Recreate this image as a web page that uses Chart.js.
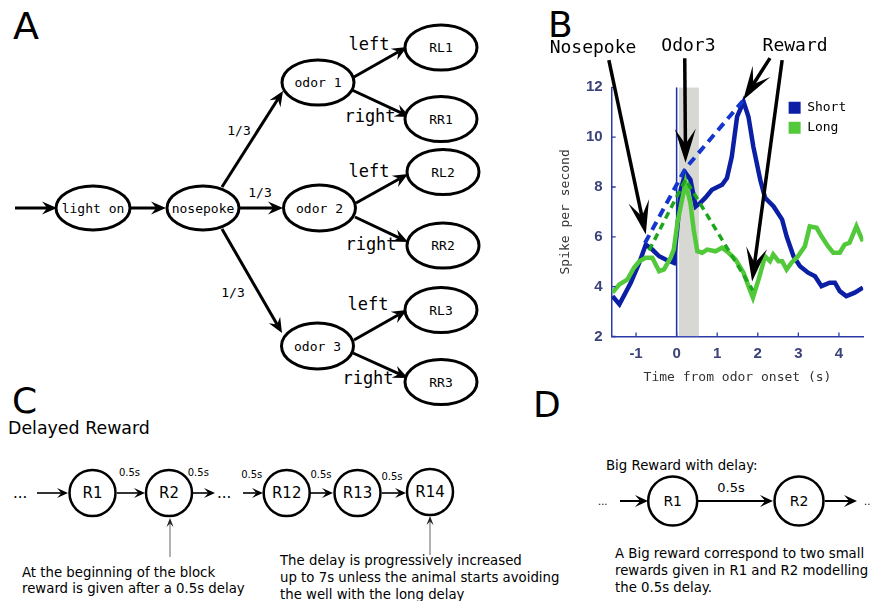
<!DOCTYPE html>
<html>
<head>
<meta charset="utf-8">
<script src="https://cdn.jsdelivr.net/npm/chart.js@4/dist/chart.umd.min.js"></script>
<style>
  html, body { margin: 0; padding: 0; background: #fff; }
  #page { position: relative; width: 871px; height: 601px; overflow: hidden; }
  #diagram { position: absolute; left: 0; top: 0; }
  #chartBox { position: absolute; left: 540px; top: 20px; width: 331px; height: 380px; }
</style>
</head>
<body>
<div id="page">
  <svg id="diagram" width="871" height="601" xmlns="http://www.w3.org/2000/svg"></svg>
  <div id="chartBox"><canvas id="spikeChart"></canvas></div>
</div>
<script>
// Panel B data: firing rate around odor onset
const seriesNames = ['Short', 'Long'];
const seriesColors = ['#0b1fa5', '#52c93a'];

const shortTime = [-1.58, -1.41, -1.13, -0.92, -0.76, -0.6, -0.43, -0.27, -0.07, 0.02, 0.1, 0.22, 0.34, 0.47, 0.59, 0.71, 0.87, 1.12, 1.24, 1.36, 1.49, 1.65, 1.77, 1.89, 2.06, 2.18, 2.39, 2.6, 2.71, 2.88, 3.04, 3.24, 3.41, 3.57, 3.77, 3.9, 4.02, 4.18, 4.39, 4.59];
const shortRate = [3.62, 3.29, 4.16, 4.96, 5.69, 5.49, 5.22, 5.09, 4.96, 6.4, 7.89, 8.56, 8.29, 7.22, 7.37, 7.57, 7.89, 8.09, 8.36, 9.22, 10.82, 11.42, 10.82, 9.62, 8.29, 7.56, 7.22, 6.69, 6.02, 5.22, 4.82, 4.56, 4.42, 4.02, 4.16, 4.16, 3.82, 3.62, 3.76, 3.96];

const longTime = [-1.58, -1.41, -1.21, -1.05, -0.92, -0.76, -0.6, -0.43, -0.31, -0.15, -0.07, 0.02, 0.1, 0.22, 0.34, 0.42, 0.51, 0.63, 0.75, 0.96, 1.12, 1.28, 1.45, 1.65, 1.77, 1.88, 2.02, 2.18, 2.3, 2.38, 2.51, 2.6, 2.71, 2.83, 2.99, 3.16, 3.28, 3.45, 3.57, 3.73, 3.86, 4.02, 4.14, 4.26, 4.43, 4.59];
const longRate = [3.76, 4.09, 4.29, 4.76, 5.02, 5.16, 5.16, 4.62, 4.69, 5.16, 5.49, 6.56, 7.22, 8.16, 7.36, 6.29, 5.42, 5.36, 5.49, 5.42, 5.56, 5.36, 5.09, 4.56, 4.02, 3.56, 4.29, 5.22, 5.02, 5.29, 5.02, 5.02, 4.69, 4.96, 5.22, 5.62, 6.42, 6.36, 6.02, 5.62, 5.36, 5.36, 5.69, 5.76, 6.42, 5.82];

// dashed guide lines: nosepoke -> odor peak -> reward
const shortGuideTime = [-0.78, 0.22, 1.63];
const shortGuideRate = [5.75, 8.75, 11.45];
const longGuideTime = [-0.68, 0.22, 1.88];
const longGuideRate = [5.45, 8.3, 3.85];

// odor delivery window (grey band)
const odorWindow = [0.05, 0.55];

const xTicks = [-1, 0, 1, 2, 3, 4];
const yTicks = [2, 4, 6, 8, 10, 12];

// event annotations: label, label position, arrows [tail, tip]
const events = [
    { label: 'Nosepoke', at: [-2.06, 13.55], arrows: [[[-1.67, 13.09], [-0.76, 6.09]]] },
    { label: 'Odor3', at: [0.29, 13.65], arrows: [[[0.2, 13.17], [0.22, 8.97]]] },
    { label: 'Reward', at: [2.92, 13.65], arrows: [[[2.3, 13.17], [1.64, 11.49]], [[2.6, 13.09], [1.86, 4.21]]] }
];

const axisColor = '#2b3aa8';
const tickColor = '#3b4277';
const mono = 'DejaVu Sans Mono';
const sans = 'DejaVu Sans';

function toPoints(xs, ys) {
    return xs.map((x, i) => ({ x: x, y: ys[i] }));
}

// arrow helper shared by canvas and svg
function arrowGeometry(x1, y1, x2, y2, len, half, notch) {
    const dx = x2 - x1, dy = y2 - y1;
    const d = Math.hypot(dx, dy);
    const ux = dx / d, uy = dy / d;
    const nx = -uy, ny = ux;
    const bx = x2 - ux * len, by = y2 - uy * len;
    const mx = x2 - ux * len * notch, my = y2 - uy * len * notch;
    return {
        shaftEnd: [mx, my],
        head: [[x2, y2], [bx + nx * half, by + ny * half], [mx, my], [bx - nx * half, by - ny * half]]
    };
}

// ---------- diagrams (panels A, C, D) ----------
const svg = document.getElementById('diagram');
let svgParts = [];

function svgText(x, y, str, size, family, anchor, extra) {
    svgParts.push(`<text x="${x}" y="${y}" font-family="${family}" font-size="${size}" text-anchor="${anchor || 'start'}" ${extra || ''} fill="#000">${str}</text>`);
}

function svgArrow(x1, y1, x2, y2, o) {
    const g = arrowGeometry(x1, y1, x2, y2, o.len, o.half, o.notch);
    svgParts.push(`<line x1="${x1}" y1="${y1}" x2="${g.shaftEnd[0]}" y2="${g.shaftEnd[1]}" stroke="${o.color}" stroke-width="${o.width}"/>`);
    svgParts.push(`<polygon points="${g.head.map(p => p.join(',')).join(' ')}" fill="${o.headColor || o.color}"/>`);
}

function svgEllipse(cx, cy, rx, ry, label) {
    svgParts.push(`<ellipse cx="${cx}" cy="${cy}" rx="${rx}" ry="${ry}" fill="#fff" stroke="#000" stroke-width="3"/>`);
    svgText(cx, cy + 4.5, label, 13, mono, 'middle');
}

function svgCircle(cx, cy, r, label, size) {
    svgParts.push(`<circle cx="${cx}" cy="${cy}" r="${r}" fill="#fff" stroke="#000" stroke-width="2.5"/>`);
    svgText(cx, cy + size * 0.36, label, size, sans, 'middle');
}

function drawDiagrams() {
    const thick = { len: 15, half: 6.5, notch: 0.65, width: 3, color: '#000' };

    // Panel A
    svgText(13, 39, 'A', 38, sans);
    svgArrow(15, 208, 57, 208, thick);
    svgArrow(130, 208, 166, 208, thick);
    svgArrow(240, 208, 283, 208, thick);
    svgArrow(222, 187, 283, 91, thick);
    svgArrow(222, 229, 282, 333, thick);
    svgArrow(354, 77, 407, 47, thick);
    svgArrow(352, 90, 410, 117, thick);
    svgArrow(356, 203, 408, 174, thick);
    svgArrow(355, 217, 408, 242, thick);
    svgArrow(354, 340, 407, 310, thick);
    svgArrow(353, 353, 408, 378, thick);

    svgEllipse(93, 208, 37, 22, 'light on');
    svgEllipse(203, 208, 36, 22, 'nosepoke');
    svgEllipse(318, 82.5, 36, 22.5, 'odor 1');
    svgEllipse(319.5, 208, 36, 23, 'odor 2');
    svgEllipse(317.5, 346, 36, 23, 'odor 3');
    svgEllipse(441, 47.5, 36, 22.5, 'RL1');
    svgEllipse(441, 119, 36, 22.5, 'RR1');
    svgEllipse(443, 172, 36, 22.5, 'RL2');
    svgEllipse(443, 245.5, 36, 22.5, 'RR2');
    svgEllipse(441, 310, 36, 22.5, 'RL3');
    svgEllipse(441, 382, 36, 22.5, 'RR3');

    svgText(239, 135, '1/3', 13, mono, 'middle');
    svgText(260, 196.5, '1/3', 13, mono, 'middle');
    svgText(233, 297, '1/3', 13, mono, 'middle');
    svgText(369, 49.5, 'left', 17, mono, 'middle');
    svgText(370, 122, 'right', 17, mono, 'middle');
    svgText(369, 177, 'left', 17, mono, 'middle');
    svgText(371, 250, 'right', 17, mono, 'middle');
    svgText(368, 310, 'left', 17, mono, 'middle');
    svgText(368, 384, 'right', 17, mono, 'middle');

    // Panel B letter
    svgText(548, 37, 'B', 36, sans);

    // Panel C
    const thin = { len: 11, half: 5, notch: 0.6, width: 1.6, color: '#000' };
    const pointer = { len: 9, half: 3.5, notch: 0.6, width: 1.3, color: '#888', headColor: '#222' };
    svgText(12, 413, 'C', 36, sans);
    svgText(8, 434, 'Delayed Reward', 17.4, sans);
    svgText(13, 498, '...', 15, sans);
    svgArrow(37, 493, 68, 493, thin);
    svgArrow(117, 493, 145, 493, thin);
    svgArrow(193, 493, 215, 493, thin);
    svgText(217, 498, '...', 15, sans);
    svgArrow(243, 493, 263, 493, thin);
    svgArrow(310, 493, 333, 493, thin);
    svgArrow(382, 493, 406, 493, thin);
    svgCircle(92.5, 493, 23, 'R1', 15);
    svgCircle(169, 493, 23, 'R2', 15);
    svgCircle(286.7, 493, 23, 'R12', 15);
    svgCircle(357.5, 493, 23, 'R13', 15);
    svgCircle(430, 492, 23, 'R14', 15);
    svgText(129.5, 476, '0.5s', 10, sans, 'middle');
    svgText(198.3, 476, '0.5s', 10, sans, 'middle');
    svgText(251.7, 478, '0.5s', 10, sans, 'middle');
    svgText(321, 478, '0.5s', 10, sans, 'middle');
    svgText(392, 480, '0.5s', 10, sans, 'middle');
    svgArrow(170, 557, 170, 518, pointer);
    svgArrow(430, 555, 430, 516, pointer);
    svgText(22, 577, 'At the beginning of the block', 13.3, sans);
    svgText(22, 593, 'reward is given after a 0.5s delay', 13.3, sans);
    svgText(280, 565, 'The delay is progressively increased', 13.3, sans);
    svgText(280, 582, 'up to 7s unless the animal starts avoiding', 13.3, sans);
    svgText(280, 599, 'the well with the long delay', 13.3, sans);

    // Panel D
    const mid = { len: 13, half: 6, notch: 0.6, width: 2, color: '#000' };
    svgText(533, 417, 'D', 36, sans);
    svgText(606, 470, 'Big Reward with delay:', 13.3, sans);
    svgText(598, 505, '...', 10, sans);
    svgArrow(620, 501, 648, 501, mid);
    svgArrow(698, 501, 773, 501, mid);
    svgArrow(825, 501, 857, 501, mid);
    svgText(864, 505, '..', 10, sans);
    svgCircle(672.7, 501, 24.5, 'R1', 14);
    svgCircle(799, 501, 24.5, 'R2', 14);
    svgText(731, 492, '0.5s', 13, sans, 'middle');
    svgText(615, 558, 'A Big reward correspond to two small', 13.3, sans);
    svgText(615, 575, 'rewards given in R1 and R2 modelling', 13.3, sans);
    svgText(615, 592, 'the 0.5s delay.', 13.3, sans);

    svg.innerHTML = svgParts.join('\n');
}

drawDiagrams();

// ---------- panel B chart ----------
const eventPlugin = {
    id: 'eventArrows',
    afterLayout(chart) {
        // park the legend in the upper right of the plot
        const legend = chart.legend;
        if (!legend) return;
        const x = chart.scales.x, y = chart.scales.y;
        const w = legend.width, h = legend.height;
        legend.left = x.getPixelForValue(2.76) - 7;
        legend.top = y.getPixelForValue(11.42) - 7.5;
        legend.right = legend.left + w;
        legend.bottom = legend.top + h;
    },
    afterDatasetsDraw(chart) {
        const { ctx, scales: { x, y }, chartArea } = chart;
        ctx.save();

        // inward tick marks
        ctx.strokeStyle = axisColor;
        ctx.lineWidth = 1.3;
        ctx.beginPath();
        yTicks.forEach(v => {
            const py = y.getPixelForValue(v);
            ctx.moveTo(chartArea.left, py);
            ctx.lineTo(chartArea.left + 4, py);
        });
        xTicks.forEach(v => {
            const px = x.getPixelForValue(v);
            ctx.moveTo(px, chartArea.bottom);
            ctx.lineTo(px, chartArea.bottom - 4);
        });
        ctx.stroke();

        // event arrows
        ctx.fillStyle = '#000';
        ctx.strokeStyle = '#000';
        ctx.lineWidth = 3.5;
        events.forEach(ev => {
            ev.arrows.forEach(a => {
                const x1 = x.getPixelForValue(a[0][0]), y1 = y.getPixelForValue(a[0][1]);
                const x2 = x.getPixelForValue(a[1][0]), y2 = y.getPixelForValue(a[1][1]);
                const g = arrowGeometry(x1, y1, x2, y2, 34, 10.5, 0.55);
                ctx.beginPath();
                ctx.moveTo(x1, y1);
                ctx.lineTo(g.shaftEnd[0], g.shaftEnd[1]);
                ctx.stroke();
                ctx.beginPath();
                g.head.forEach((p, i) => i ? ctx.lineTo(p[0], p[1]) : ctx.moveTo(p[0], p[1]));
                ctx.closePath();
                ctx.fill();
            });
            ctx.font = '18px "' + mono + '"';
            ctx.textAlign = 'center';
            ctx.textBaseline = 'middle';
            ctx.fillText(ev.label, x.getPixelForValue(ev.at[0]), y.getPixelForValue(ev.at[1]));
        });
        ctx.restore();
    }
};

const ctx = document.getElementById('spikeChart');
new Chart(ctx, {
    type: 'line',
    data: {
        datasets: [{
            label: 'long guide',
            data: toPoints(longGuideTime, longGuideRate),
            borderColor: '#1ea51e',
            borderWidth: 3.5,
            borderDash: [7, 5],
            pointRadius: 0,
            tension: 0
        }, {
            label: 'short guide',
            data: toPoints(shortGuideTime, shortGuideRate),
            borderColor: '#1436cc',
            borderWidth: 4,
            borderDash: [9, 6],
            pointRadius: 0,
            tension: 0
        }, {
            label: seriesNames[1],
            data: toPoints(longTime, longRate),
            borderColor: seriesColors[1],
            borderWidth: 4.5,
            pointRadius: 0,
            tension: 0
        }, {
            label: seriesNames[0],
            data: toPoints(shortTime, shortRate),
            borderColor: seriesColors[0],
            borderWidth: 4.5,
            pointRadius: 0,
            tension: 0
        }, {
            label: 'onset',
            data: [{ x: 0, y: 2 }, { x: 0, y: 12 }],
            borderColor: '#1a2fb0',
            borderWidth: 1.5,
            pointRadius: 0
        }, {
            label: 'odor',
            data: [{ x: odorWindow[0], y: 12 }, { x: odorWindow[1], y: 12 }],
            borderWidth: 0,
            borderColor: 'rgba(0,0,0,0)',
            backgroundColor: '#d7d7d3',
            fill: 'start',
            pointRadius: 0
        }]
    },
    options: {
        responsive: true,
        maintainAspectRatio: false,
        animation: false,
        layout: {
            padding: { left: 0, top: 67.3, right: 7.7, bottom: 0 }
        },
        plugins: {
            legend: {
                position: 'chartArea',
                align: 'start',
                labels: {
                    boxWidth: 12,
                    boxHeight: 12,
                    padding: 7,
                    color: '#222',
                    font: { family: mono, size: 13 },
                    generateLabels: () => seriesNames.map((name, i) => ({
                        text: name,
                        fillStyle: seriesColors[i],
                        strokeStyle: seriesColors[i],
                        lineWidth: 0,
                        hidden: false,
                        datasetIndex: 3 - i
                    }))
                }
            },
            tooltip: { enabled: false }
        },
        scales: {
            x: {
                type: 'linear',
                min: -1.6,
                max: 4.6,
                afterBuildTicks: s => { s.ticks = xTicks.map(v => ({ value: v })); },
                afterFit: s => { s.height = 63.5; },
                grid: { display: false, drawTicks: false },
                border: { color: axisColor, width: 1.5 },
                ticks: {
                    padding: 8,
                    color: tickColor,
                    font: { family: 'Liberation Sans', size: 15, weight: 'bold' }
                },
                title: {
                    display: true,
                    text: 'Time from odor onset (s)',
                    color: '#333',
                    font: { family: mono, size: 13 },
                    padding: { top: 0, bottom: 15 }
                }
            },
            y: {
                min: 2,
                max: 12,
                afterBuildTicks: s => { s.ticks = yTicks.map(v => ({ value: v })); },
                afterFit: s => { s.width = 71.7; },
                grid: { display: false, drawTicks: false },
                border: { color: axisColor, width: 1.5 },
                ticks: {
                    padding: 9,
                    color: tickColor,
                    font: { family: 'Liberation Sans', size: 15, weight: 'bold' }
                },
                title: {
                    display: true,
                    text: 'Spike per second',
                    color: '#333',
                    font: { family: mono, size: 13 },
                    padding: { top: 18, bottom: 0 }
                }
            }
        }
    },
    plugins: [eventPlugin]
});
</script>
</body>
</html>
